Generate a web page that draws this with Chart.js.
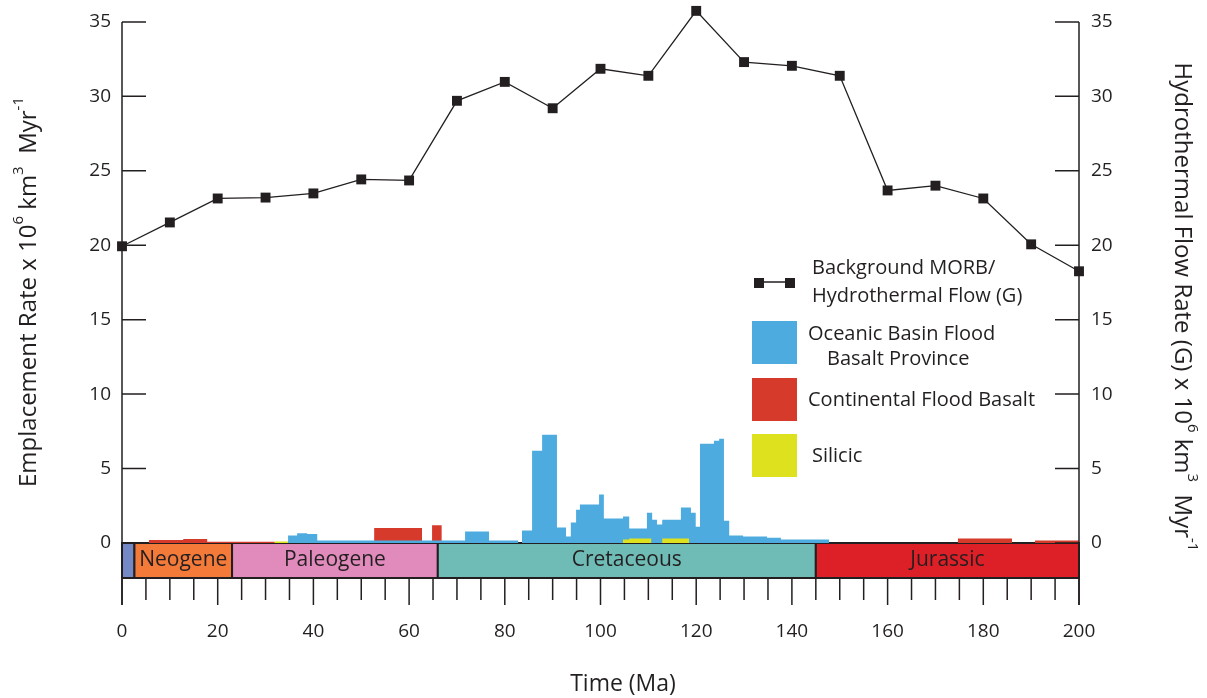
<!DOCTYPE html>
<html>
<head>
<meta charset="utf-8">
<title>Emplacement rate and hydrothermal flow</title>
<script src="https://cdn.jsdelivr.net/npm/chart.js@4.4.1/dist/chart.umd.min.js"></script>
<style>
    html, body { margin: 0; padding: 0; background: #fff; }
    .chart-wrap { position: relative; width: 1207px; height: 698px; }
</style>
</head>
<body>
<div class="chart-wrap"><canvas id="chart"></canvas></div>
<script>
// background MORB / hydrothermal flow (G), one point every 10 Ma
var ages = [0, 10, 20, 30, 40, 50, 60, 70, 80, 90, 100, 110, 120, 130, 140, 150, 160, 170, 180, 190, 200];
var hydroFlow = [19.93, 21.53, 23.14, 23.2, 23.48, 24.42, 24.35, 29.7, 30.97, 29.2, 31.85, 31.38, 35.74,
    32.3, 32.05, 31.38, 23.68, 24.0, 23.14, 20.06, 18.25];

// emplacement rates as step bins: bin start (Ma) + rate, last bin closes at *End
var oceanicStart = [34.7, 36.6, 38.7, 40.8, 71.7, 76.7, 82.8, 83.6, 85.7, 87.8, 90.9, 92.8, 93.8, 94.9, 95.7,
    99.7, 100.7, 104.7, 106.0, 109.7, 110.8, 111.8, 112.9, 116.8, 118.9, 119.9, 120.8, 123.7, 124.8, 125.8,
    126.9, 129.8, 134.8, 137.7];
var oceanicRate = [0.5, 0.65, 0.6, 0.17, 0.77, 0.17, 0, 0.84, 6.2, 7.27, 1.04, 0.44, 1.37, 2.24, 2.58,
    3.25, 1.64, 1.78, 0.97, 2.04, 1.57, 1.24, 1.57, 2.38, 2.04, 1.1, 6.66, 6.86, 7.0, 1.5,
    0.5, 0.44, 0.36, 0.23];
var oceanicEnd = 147.8;

var continentalStart = [5.6, 12.8, 17.8, 31.8, 52.7, 62.7, 64.8, 66.8, 174.7, 186, 190.8];
var continentalRate = [0.2, 0.27, 0.08, 0, 1.0, 0, 1.2, 0, 0.3, 0, 0.17];
var continentalEnd = 200;

var silicicStart = [31.8, 34.7, 104.7, 106, 110.6, 112.9];
var silicicRate = [0.1, 0, 0.23, 0.3, 0, 0.3];
var silicicEnd = 118.5;

// geologic time scale
var periodNames = ['', 'Neogene', 'Paleogene', 'Cretaceous', 'Jurassic'];
var periodStart = [0, 2.6, 23, 66, 145];
var periodEnd = [2.6, 23, 66, 145, 200];
var periodColors = ['#7388c4', '#f47a3a', '#e08bbb', '#6fbbb6', '#dd2027'];

// axis ticks
var rateTicks = [0, 5, 10, 15, 20, 25, 30, 35];
var ageTicks = [0, 20, 40, 60, 80, 100, 120, 140, 160, 180, 200];
var ageMinorStep = 5;
var bandBottom = -2.35;
var rateTop = 36; // room for the 120 Ma point above the last tick

var ink = '#231f20';
var font = '"Open Sans", sans-serif';

function steps(starts, rates, end) {
    var pts = starts.map(function (s, i) {
        return { x: s, y: rates[i] };
    });
    pts.push({ x: end, y: 0 });
    return pts;
}

function fixTicks(list) {
    return function (scale) {
        scale.ticks = list.map(function (v) { return { value: v }; });
    };
}

function sideFit(width) {
    return function (s) {
        s.width = width;
        s.paddingTop = 0;
        s.paddingBottom = 0;
    };
}

// text with superscripts, centred at x,y and rotated
function drawRich(ctx, parts, x, y, rot, size) {
    var big = size + 'px ' + font;
    var small = Math.round(size * 0.62) + 'px ' + font;
    ctx.save();
    ctx.translate(x, y);
    ctx.rotate(rot);
    var w = 0;
    parts.forEach(function (p) {
        ctx.font = p.sup ? small : big;
        w += ctx.measureText(p.t).width;
    });
    var cx = -w / 2;
    ctx.textAlign = 'left';
    ctx.textBaseline = 'middle';
    ctx.fillStyle = ink;
    parts.forEach(function (p) {
        ctx.font = p.sup ? small : big;
        ctx.fillText(p.t, cx, p.sup ? -size * 0.42 : 0);
        cx += ctx.measureText(p.t).width;
    });
    ctx.restore();
}

var timeBand = {
    id: 'timeBand',
    beforeDatasetsDraw: function (chart) {
        var ctx = chart.ctx;
        var x = chart.scales.x, y = chart.scales.y;
        var top = y.getPixelForValue(0), bottom = y.getPixelForValue(bandBottom);
        ctx.save();
        periodNames.forEach(function (name, i) {
            var x0 = x.getPixelForValue(periodStart[i]);
            var x1 = x.getPixelForValue(periodEnd[i]);
            ctx.fillStyle = periodColors[i];
            ctx.fillRect(x0, top, x1 - x0, bottom - top);
            ctx.lineWidth = 2;
            ctx.strokeStyle = ink;
            ctx.strokeRect(x0, top, x1 - x0, bottom - top);
            if (name) {
                ctx.fillStyle = ink;
                ctx.font = '21px ' + font;
                ctx.textAlign = 'center';
                ctx.textBaseline = 'middle';
                ctx.fillText(name, (x0 + x1) / 2, (top + bottom) / 2);
            }
        });
        ctx.restore();
    }
};

var frame = {
    id: 'frame',
    afterDraw: function (chart) {
        var ctx = chart.ctx;
        var area = chart.chartArea;
        var x = chart.scales.x, y = chart.scales.y;
        var axisTop = y.getPixelForValue(rateTicks[rateTicks.length - 1]);
        ctx.save();
        ctx.strokeStyle = ink;
        ctx.lineWidth = 1.5;

        // side axes run down past the time band
        ctx.beginPath();
        ctx.moveTo(area.left, axisTop);
        ctx.lineTo(area.left, area.bottom + 27);
        ctx.moveTo(area.right, axisTop);
        ctx.lineTo(area.right, area.bottom + 27);
        ctx.stroke();

        // inward y ticks on both sides
        ctx.beginPath();
        rateTicks.forEach(function (v) {
            var py = y.getPixelForValue(v);
            ctx.moveTo(area.left, py);
            ctx.lineTo(area.left + 24, py);
            ctx.moveTo(area.right, py);
            ctx.lineTo(area.right - 24, py);
        });
        ctx.stroke();

        // x ticks, longer on labelled ages
        ctx.beginPath();
        for (var a = x.min; a <= x.max; a += ageMinorStep) {
            var px = x.getPixelForValue(a);
            var len = ageTicks.indexOf(a) >= 0 ? 27 : 22;
            ctx.moveTo(px, area.bottom);
            ctx.lineTo(px, area.bottom + len);
        }
        ctx.stroke();
        ctx.restore();

        // axis titles
        drawRich(ctx, [
            { t: 'Emplacement Rate x 10' }, { t: '6', sup: true },
            { t: ' km' }, { t: '3', sup: true },
            { t: '  Myr' }, { t: '-1', sup: true }
        ], 29, 292, -Math.PI / 2, 24);
        drawRich(ctx, [
            { t: 'Hydrothermal Flow Rate (G) x 10' }, { t: '6', sup: true },
            { t: ' km' }, { t: '3', sup: true },
            { t: '  Myr' }, { t: '-1', sup: true }
        ], 1182, 307, Math.PI / 2, 24);
        drawRich(ctx, [{ t: 'Time (Ma)' }], 623, 684, 0, 23);

        drawLegend(chart);
    }
};

function drawLegend(chart) {
    var ctx = chart.ctx;
    var ds = chart.data.datasets;
    var left = 752;
    ctx.save();
    ctx.font = '20px ' + font;
    ctx.fillStyle = ink;
    ctx.textAlign = 'left';
    ctx.textBaseline = 'middle';

    // line item
    var line = ds[0];
    ctx.strokeStyle = line.borderColor;
    ctx.lineWidth = 1.5;
    ctx.beginPath();
    ctx.moveTo(758, 282);
    ctx.lineTo(790, 282);
    ctx.stroke();
    ctx.fillStyle = line.borderColor;
    ctx.fillRect(754, 278, 10, 10);
    ctx.fillRect(785, 278, 10, 10);
    ctx.fillStyle = ink;
    line.label.split('\n').forEach(function (t, i) {
        ctx.fillText(t, 812, 268 + i * 28);
    });

    // filled items
    var rows = [
        { d: ds[2], top: 321, text: [808, 334], indent: 19, gap: 25 },
        { d: ds[3], top: 378, text: [808, 400] },
        { d: ds[1], top: 434, text: [812, 456] }
    ];
    rows.forEach(function (r) {
        ctx.fillStyle = r.d.backgroundColor;
        ctx.fillRect(left, r.top, 45, 43);
        ctx.fillStyle = ink;
        r.d.label.split('\n').forEach(function (t, i) {
            ctx.fillText(t, r.text[0] + (i ? r.indent : 0), r.text[1] + i * (r.gap || 0));
        });
    });
    ctx.restore();
}

var ctx = document.getElementById('chart');
Chart.defaults.font.family = font;
Chart.defaults.color = ink;

var chartInstance = new Chart(ctx, {
    type: 'line',
    data: {
        datasets: [{
            label: 'Background MORB/\nHydrothermal Flow (G)',
            data: ages.map(function (a, i) { return { x: a, y: hydroFlow[i] }; }),
            borderColor: ink,
            backgroundColor: ink,
            borderWidth: 1.3,
            pointStyle: 'rect',
            pointRadius: 7,
            pointBorderWidth: 0,
            clip: false,
            fill: false,
            order: 0
        }, {
            label: 'Silicic',
            data: steps(silicicStart, silicicRate, silicicEnd),
            stepped: true,
            fill: 'origin',
            backgroundColor: '#dde11e',
            borderWidth: 0,
            pointRadius: 0,
            order: 1
        }, {
            label: 'Oceanic Basin Flood\nBasalt Province',
            data: steps(oceanicStart, oceanicRate, oceanicEnd),
            stepped: true,
            fill: 'origin',
            backgroundColor: '#4dabdf',
            borderWidth: 0,
            pointRadius: 0,
            order: 2
        }, {
            label: 'Continental Flood Basalt',
            data: steps(continentalStart, continentalRate, continentalEnd),
            stepped: true,
            fill: 'origin',
            backgroundColor: '#d53a2a',
            borderWidth: 0,
            pointRadius: 0,
            order: 3
        }]
    },
    options: {
        responsive: true,
        maintainAspectRatio: false,
        animation: false,
        layout: { padding: { top: 5 } },
        plugins: {
            legend: { display: false },
            tooltip: { enabled: false }
        },
        scales: {
            x: {
                type: 'linear',
                min: 0,
                max: 200,
                grid: { display: false, drawTicks: false },
                border: { display: false },
                ticks: { font: { size: 19 }, padding: 42, maxRotation: 0, autoSkip: false },
                afterBuildTicks: fixTicks(ageTicks),
                afterFit: function (s) { s.height = 120; }
            },
            y: {
                position: 'left',
                min: bandBottom,
                max: rateTop,
                grid: { display: false, drawTicks: false },
                border: { display: false },
                ticks: { font: { size: 19 }, padding: 11 },
                afterBuildTicks: fixTicks(rateTicks),
                afterFit: sideFit(122)
            },
            y2: {
                position: 'right',
                min: bandBottom,
                max: rateTop,
                grid: { display: false, drawTicks: false },
                border: { display: false },
                ticks: { font: { size: 19 }, padding: 12 },
                afterBuildTicks: fixTicks(rateTicks),
                afterFit: sideFit(128)
            }
        }
    },
    plugins: [timeBand, frame]
});
</script>
</body>
</html>
